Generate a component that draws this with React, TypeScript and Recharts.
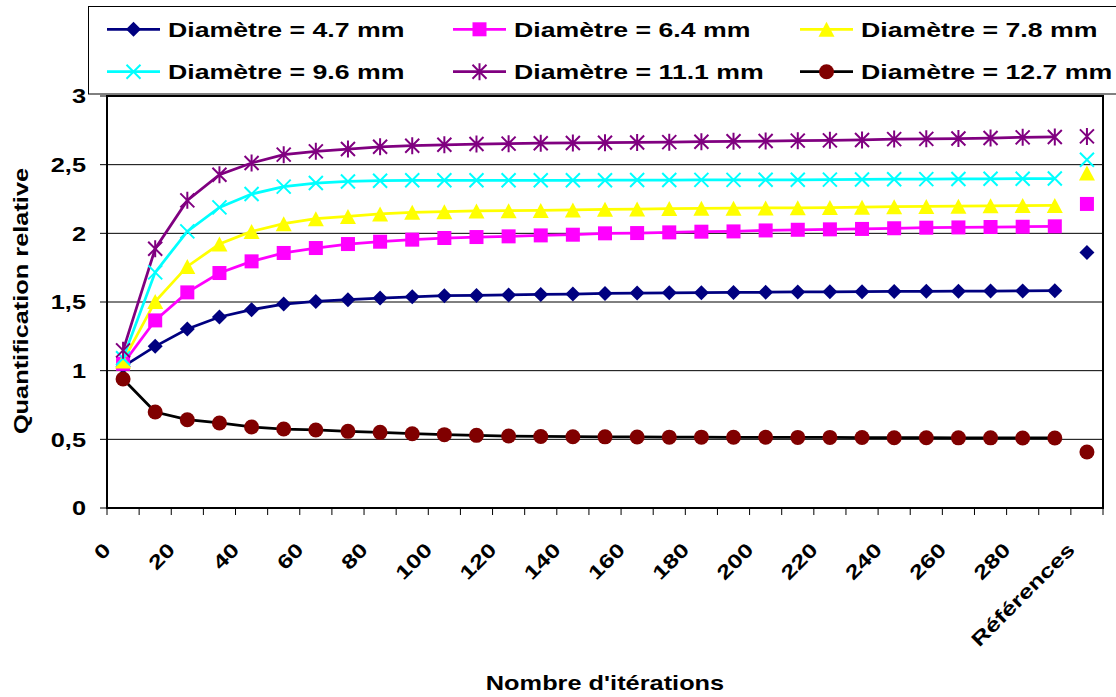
import React from 'react';
import { LineChart, Line, XAxis, YAxis, CartesianGrid, ReferenceArea, Legend } from 'recharts';

// ---------- data ----------
const iterations = [0, 10, 20, 30, 40, 50, 60, 70, 80, 90, 100, 110, 120, 130, 140, 150, 160, 170, 180, 190, 200, 210, 220, 230, 240, 250, 260, 270, 280, 290];
const refLabel = 'Références';
const categories = [...iterations.map(String), refLabel];

const seriesNames = [
  'Diamètre = 4.7 mm',
  'Diamètre = 6.4 mm',
  'Diamètre = 7.8 mm',
  'Diamètre = 9.6 mm',
  'Diamètre = 11.1 mm',
  'Diamètre = 12.7 mm',
];

const d47 = [1.03, 1.177, 1.303, 1.391, 1.444, 1.485, 1.504, 1.517, 1.529, 1.538, 1.546, 1.548, 1.551, 1.555, 1.558, 1.562, 1.565, 1.567, 1.568, 1.57, 1.571, 1.573, 1.574, 1.575, 1.577, 1.578, 1.579, 1.58, 1.581, 1.582];
const d64 = [1.05, 1.366, 1.57, 1.711, 1.796, 1.857, 1.893, 1.922, 1.939, 1.954, 1.966, 1.973, 1.978, 1.985, 1.99, 2.0, 2.002, 2.007, 2.012, 2.014, 2.021, 2.026, 2.029, 2.032, 2.037, 2.041, 2.043, 2.046, 2.048, 2.051];
const d78 = [1.07, 1.504, 1.759, 1.922, 2.014, 2.07, 2.107, 2.123, 2.141, 2.153, 2.158, 2.163, 2.165, 2.167, 2.17, 2.175, 2.177, 2.18, 2.182, 2.183, 2.185, 2.186, 2.188, 2.19, 2.194, 2.196, 2.198, 2.2, 2.202, 2.203];
const d96 = [1.09, 1.716, 2.014, 2.189, 2.286, 2.34, 2.366, 2.378, 2.383, 2.386, 2.386, 2.386, 2.386, 2.386, 2.386, 2.387, 2.388, 2.388, 2.389, 2.389, 2.39, 2.39, 2.391, 2.392, 2.394, 2.395, 2.396, 2.397, 2.398, 2.399];
const d111 = [1.148, 1.888, 2.24, 2.427, 2.512, 2.573, 2.597, 2.614, 2.63, 2.638, 2.645, 2.65, 2.653, 2.656, 2.658, 2.66, 2.662, 2.664, 2.667, 2.67, 2.672, 2.675, 2.677, 2.68, 2.686, 2.688, 2.69, 2.694, 2.699, 2.702];
const d127 = [0.939, 0.699, 0.643, 0.619, 0.59, 0.575, 0.568, 0.558, 0.551, 0.541, 0.534, 0.529, 0.524, 0.521, 0.519, 0.518, 0.517, 0.516, 0.516, 0.515, 0.515, 0.514, 0.514, 0.513, 0.512, 0.512, 0.511, 0.511, 0.51, 0.51];
const refValues = [1.861, 2.214, 2.439, 2.536, 2.706, 0.408];

const yTicks = [0, 0.5, 1, 1.5, 2, 2.5, 3];

// ---------- styles ----------
const seriesValues = [d47, d64, d78, d96, d111, d127];
const seriesStyles = [
  { color: '#000080', line: '#000080', marker: 'diamond' },
  { color: '#FF00FF', line: '#FF00FF', marker: 'square' },
  { color: '#FFFF00', line: '#FFFF00', marker: 'triangle' },
  { color: '#00FFFF', line: '#00FFFF', marker: 'x' },
  { color: '#800080', line: '#800080', marker: 'star' },
  { color: '#800000', line: '#000000', marker: 'circle' },
];

const FONT = '"Liberation Sans", Arial, sans-serif';
const FS = 19.5;
const SX = 1.3;
const LEG_FS = 21;
const LEG_SX = 1.27;
const LW = 2.75;

const data = categories.map((label, i) => {
  const row: any = { i, label };
  seriesValues.forEach((vals, s) => {
    row['s' + s] = i < iterations.length ? vals[i] : null;
    row['r' + s] = i === iterations.length ? refValues[s] : null;
  });
  return row;
});

const xMin = -0.5;
const xMax = categories.length - 0.5;
const xTicks: number[] = [];
for (let k = 0; k <= categories.length; k++) {
  xTicks.push(k - 0.5);
  if (k < categories.length && k % 2 === 0) xTicks.push(k);
}

// ---------- helpers ----------
const StretchText = ({ x, y, rotate = 0, anchor = 'start', fs = FS, sx = SX, children }: any) => (
  <text
    transform={`translate(${x},${y}) rotate(${rotate}) scale(${sx},1)`}
    x={0}
    y={0}
    textAnchor={anchor}
    fontFamily={FONT}
    fontWeight={700}
    fontSize={fs}
    fill="#000"
  >
    {children}
  </text>
);

const Marker = ({ kind, cx, cy, color }: any) => {
  switch (kind) {
    case 'diamond':
      return <polygon points={`${cx},${cy - 7.5} ${cx + 7.5},${cy} ${cx},${cy + 7.5} ${cx - 7.5},${cy}`} fill={color} />;
    case 'square':
      return <rect x={cx - 7} y={cy - 7} width={14} height={14} fill={color} />;
    case 'triangle':
      return <polygon points={`${cx},${cy - 7.5} ${cx + 8},${cy + 7.5} ${cx - 8},${cy + 7.5}`} fill={color} />;
    case 'x':
      return (
        <path
          d={`M${cx - 7},${cy - 7}L${cx + 7},${cy + 7}M${cx - 7},${cy + 7}L${cx + 7},${cy - 7}`}
          stroke={color}
          strokeWidth={2}
          fill="none"
        />
      );
    case 'star':
      return (
        <path
          d={`M${cx - 7},${cy - 7}L${cx + 7},${cy + 7}M${cx - 7},${cy + 7}L${cx + 7},${cy - 7}M${cx},${cy - 8.5}L${cx},${cy + 8.5}`}
          stroke={color}
          strokeWidth={2}
          fill="none"
        />
      );
    default:
      return <circle cx={cx} cy={cy} r={7.5} fill={color} />;
  }
};

const makeDot = (s: number, prefix: string) => (p: any) => {
  const key = `${prefix}${s}-${p.index}`;
  if (p.cx == null || p.cy == null || p.value == null || isNaN(p.cy)) return <g key={key} />;
  return (
    <g key={key}>
      <Marker kind={seriesStyles[s].marker} cx={p.cx} cy={p.cy} color={seriesStyles[s].color} />
    </g>
  );
};

const YTick = (props: any) => {
  const { x, y, payload } = props;
  const txt = String(payload.value).replace('.', ',');
  return <StretchText x={x} y={y + 7.3} anchor="end">{txt}</StretchText>;
};

const XTick = (props: any) => {
  const { x, y, payload } = props;
  const v = payload.value;
  if (!Number.isInteger(v)) {
    return <line x1={x} x2={x} y1={y} y2={y + 7} stroke="#000" strokeWidth={1} />;
  }
  return (
    <StretchText x={x - 11} y={y + 43} rotate={-45} anchor="end">
      {categories[v]}
    </StretchText>
  );
};

const legendSlots = [
  { x: 107, y: 29.3 },
  { x: 453, y: 29.3 },
  { x: 800, y: 29.3 },
  { x: 107, y: 71.7 },
  { x: 453, y: 71.7 },
  { x: 800, y: 71.7 },
];

const LegendBox = () => (
  <svg width={1116} height={100} style={{ display: 'block' }}>
    <rect x={88.5} y={6.5} width={1050} height={87.5} fill="#fff" stroke="#000" strokeWidth={1} />
    {seriesNames.map((name, s) => {
      const slot = legendSlots[s];
      const st = seriesStyles[s];
      return (
        <g key={name}>
          <line x1={slot.x} x2={slot.x + 53} y1={slot.y} y2={slot.y} stroke={st.line} strokeWidth={LW} />
          <Marker kind={st.marker} cx={slot.x + 26.5} cy={slot.y} color={st.color} />
          <StretchText x={slot.x + 61} y={slot.y + 7.6} fs={LEG_FS} sx={LEG_SX}>{name}</StretchText>
        </g>
      );
    })}
  </svg>
);

const YTitle = (props: any) => {
  const vb = props.viewBox || { x: 0, y: 96, width: 107, height: 412 };
  return (
    <StretchText x={28} y={vb.y + vb.height / 2 - 1} rotate={-90} anchor="middle">
      Quantification relative
    </StretchText>
  );
};

const XTitle = (props: any) => {
  const vb = props.viewBox || { x: 107, y: 508, width: 996, height: 189 };
  return (
    <StretchText x={vb.x + vb.width / 2} y={vb.y + 182} anchor="middle">
      Nombre d'itérations
    </StretchText>
  );
};

export default function App() {
  return (
    <div style={{ position: 'absolute', left: 0, top: 0, width: 1116, height: 697, background: '#fff', overflow: 'hidden' }}>
      <LineChart width={1116} height={697} data={data} margin={{ top: 96, right: 13, bottom: 0, left: 0 }}>
        <CartesianGrid vertical={false} stroke="#000" strokeWidth={1} />
        <XAxis
          type="number"
          dataKey="i"
          domain={[xMin, xMax]}
          ticks={xTicks}
          interval={0}
          allowDecimals
          tickLine={false}
          tickSize={0}
          tickMargin={0}
          axisLine={{ stroke: '#000', strokeWidth: 2 }}
          tick={<XTick />}
          height={189}
          label={(p: any) => <XTitle {...p} />}
        />
        <YAxis
          type="number"
          domain={[0, 3]}
          ticks={yTicks}
          interval={0}
          width={107}
          tickSize={7}
          tickMargin={14}
          tickLine={{ stroke: '#000', strokeWidth: 1 }}
          axisLine={{ stroke: '#000', strokeWidth: 2 }}
          tick={<YTick />}
          label={(p: any) => <YTitle {...p} />}
        />
        <ReferenceArea x1={xMin} x2={xMax} y1={0} y2={3} fill="none" stroke="#000" strokeWidth={2} ifOverflow="visible" />
        {seriesStyles.map((st, s) => (
          <Line
            key={'s' + s}
            type="linear"
            dataKey={'s' + s}
            stroke={st.line}
            strokeWidth={LW}
            dot={makeDot(s, 'd')}
            activeDot={false}
            isAnimationActive={false}
            legendType="none"
          />
        ))}
        {seriesStyles.map((st, s) => (
          <Line
            key={'r' + s}
            type="linear"
            dataKey={'r' + s}
            stroke="none"
            dot={makeDot(s, 'r')}
            activeDot={false}
            isAnimationActive={false}
            legendType="none"
          />
        ))}
        <Legend
          layout="vertical"
          align="center"
          verticalAlign="middle"
          wrapperStyle={{ left: 0, top: 0, width: 1116, height: 100 }}
          content={() => <LegendBox />}
        />
      </LineChart>
    </div>
  );
}
